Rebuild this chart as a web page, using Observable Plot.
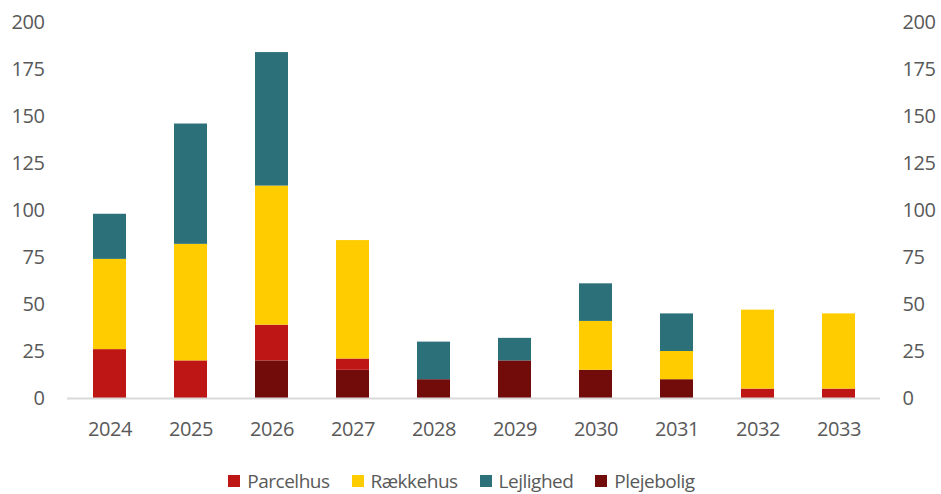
<!DOCTYPE html>
<html>
<head>
<meta charset="utf-8">
<script src="https://cdn.jsdelivr.net/npm/d3@7"></script>
<script src="https://cdn.jsdelivr.net/npm/@observablehq/plot@0.6"></script>
<style>
  html, body { margin: 0; padding: 0; background: #fff; }
  #chart { width: 941px; }
  .legend { box-sizing: border-box; display: flex; justify-content: center; align-items: center; height: 34px; padding-top: 8px; padding-right: 18px;
            font-family: "Open Sans", sans-serif; font-size: 19px; line-height: 1; color: #595959; letter-spacing: -0.5px; }
  .legend .item { display: flex; align-items: center; margin: 0 11px; }
  .legend .sw { width: 12px; height: 12px; margin-right: 7px; }
</style>
</head>
<body>
<div id="chart"></div>
<script>
const years = ["2024","2025","2026","2027","2028","2029","2030","2031","2032","2033"];
const seriesNames = ["Parcelhus","Rækkehus","Lejlighed","Plejebolig"];
const stackOrder = ["Plejebolig","Parcelhus","Rækkehus","Lejlighed"];
const colors = ["#BE1515","#FFCC00","#2C7179","#720C0A"];
const plejebolig = [0, 0, 20, 15, 10, 20, 15, 10, 0, 0];
const parcelhus  = [26, 20, 19, 6, 0, 0, 0, 0, 5, 5];
const raekkehus  = [48, 62, 74, 63, 0, 0, 26, 15, 42, 40];
const lejlighed  = [24, 64, 71, 0, 20, 12, 20, 20, 0, 0];
const yTicks = [0, 25, 50, 75, 100, 125, 150, 175, 200];

const valuesBySeries = {
  "Plejebolig": plejebolig,
  "Parcelhus": parcelhus,
  "Rækkehus": raekkehus,
  "Lejlighed": lejlighed
};
const table = [];
for (const s of stackOrder) {
  years.forEach((y, i) => table.push({year: y, series: s, value: valuesBySeries[s][i]}));
}

const textColor = "#595959";
const chart = Plot.plot({
  width: 941,
  height: 460,
  marginLeft: 67,
  marginRight: 61,
  marginTop: 22,
  marginBottom: 62,
  style: {fontFamily: "'Open Sans', sans-serif", fontSize: "20px", color: textColor, letterSpacing: "-0.4px"},
  x: {domain: years, paddingInner: 0.595, paddingOuter: 0.2975, label: null},
  y: {domain: [0, 200], label: null},
  color: {domain: seriesNames, range: colors},
  marks: [
    Plot.barY(table, {x: "year", y: "value", fill: "series", order: stackOrder}),
    Plot.ruleY([0], {stroke: "#d9d9d9", strokeWidth: 2}),
    Plot.axisX({tickSize: 0, tickPadding: 23, label: null, fill: textColor}),
    Plot.axisY({anchor: "left", ticks: yTicks, tickSize: 0, tickPadding: 23, label: null, fill: textColor}),
    Plot.axisY({anchor: "right", ticks: yTicks, tickSize: 0, tickPadding: 22, label: null, fill: textColor})
  ]
});
document.getElementById("chart").appendChild(chart);

const legend = document.createElement("div");
legend.className = "legend";
seriesNames.forEach((name, i) => {
  const item = document.createElement("div");
  item.className = "item";
  const sw = document.createElement("span");
  sw.className = "sw";
  sw.style.background = colors[i];
  const label = document.createElement("span");
  label.textContent = name;
  item.appendChild(sw);
  item.appendChild(label);
  legend.appendChild(item);
});
document.getElementById("chart").appendChild(legend);
</script>
</body>
</html>
